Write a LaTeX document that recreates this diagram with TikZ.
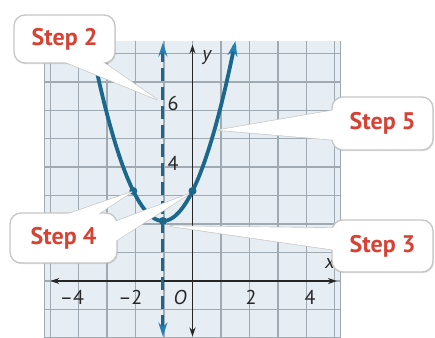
\documentclass[tikz,border=0pt]{standalone}
\usepackage{fontspec}
\setmainfont{PT Sans}
\usetikzlibrary{arrows.meta,shadows}
\definecolor{curvecol}{RGB}{28,104,140}
\definecolor{tipcol}{RGB}{38,128,178}
\definecolor{gridcol}{RGB}{160,170,178}
\definecolor{bgcol}{RGB}{230,237,243}
\definecolor{stepred}{RGB}{214,66,52}
\definecolor{boxline}{RGB}{198,198,198}
\tikzset{
  callbox/.style={fill=white, draw=boxline, line width=1.3pt, rounded corners=11pt,
    font=\bfseries\fontsize{24}{24}\selectfont, text=stepred, inner sep=0pt,
    drop shadow={shadow xshift=0.8pt, shadow yshift=-1.2pt, opacity=0.2, fill=black!60}},
  calltail/.style={fill=white, draw=boxline, line width=1.3pt, line join=round},
  tailcover/.style={fill=white},
  ticklab/.style={font=\fontsize{20}{20}\selectfont, text=black!85, inner sep=0pt},
  axisline/.style={black!85, line width=1.2pt, {Stealth[length=9pt,width=6pt]}-{Stealth[length=9pt,width=6pt]}},
  symline/.style={curvecol, line width=3pt, dash pattern=on 13pt off 6pt,
    {Stealth[length=14pt,width=9pt,color=tipcol]}-{Stealth[length=14pt,width=9pt,color=tipcol]}},
  parab/.style={curvecol, line width=3.8pt,
    {Stealth[length=15pt,width=10pt,color=tipcol]}-{Stealth[length=15pt,width=10pt,color=tipcol]}},
  gpoint/.style={fill=curvecol},
}
\begin{document}
\begin{tikzpicture}[x=1pt,y=-1pt]
\useasboundingbox (0,0) rectangle (435,337);
\clip (0,0) rectangle (435,337);
\begin{scope}[shift={(192.5,281)}, x=29.6pt, y=30pt]
  \fill[bgcol] (-5,-2.3) rectangle (5,8);
  \draw[gridcol, line width=1.4pt] (-5,-2.3) grid (5,8);
  \draw[gridcol, line width=1.4pt] (-5,-2.3) -- (-5,8) (5,-2.3) -- (5,8);
  % axes
  \coordinate (xl) at (-4.8,0);
  \coordinate (xr) at (4.88,0);
  \coordinate (yb) at (0,-1.85);
  \coordinate (yt) at (0,7.88);
  \draw[axisline] (xl) -- (xr);
  \draw[axisline] (yb) -- (yt);
  % axis of symmetry
  \coordinate (db) at (-1,-1.85);
  \coordinate (dt) at (-1,7.95);
  \draw[symline] (db) -- (dt);
  % parabola
  \draw[parab, domain=-3.449:1.449, samples=80, smooth] plot (\x, {(\x+1)*(\x+1)+2});
  % points
  \coordinate (pA) at (-2,3);
  \coordinate (pV) at (-1,2);
  \coordinate (pB) at (0,3);
  \fill[gpoint] (pA) circle (4pt);
  \fill[gpoint] (pV) circle (4pt);
  \fill[gpoint] (pB) circle (4pt);
  % labels
  \node[ticklab] (ly) at (0.5,7.45) {\textit{y}};
  \node[ticklab] (lx) at (4.65,0.6) {\textit{x}};
  \node[ticklab] (lm4) at (-4.07,-0.55) {–4};
  \node[ticklab] (lm2) at (-2.1,-0.55) {–2};
  \node[ticklab] (lO) at (-0.42,-0.55) {\textit{O}};
  \node[ticklab] (l2) at (1.98,-0.55) {2};
  \node[ticklab] (l4) at (3.97,-0.55) {4};
  \node[ticklab] (l6) at (-0.66,5.93) {6};
  \node[ticklab] (l4y) at (-0.66,3.93) {4};
  % tail tips
  \coordinate (tip2) at (-1.2,6.05);
  \coordinate (tip5) at (0.86,5.03);
  \coordinate (tip4a) at (-2.05,2.97);
  \coordinate (tip4b) at (-0.12,2.9);
  \coordinate (tip3) at (-0.76,1.83);
\end{scope}
% tail bases
\coordinate (b2a) at (60,60);   \coordinate (b2b) at (100,60);
\coordinate (b5a) at (335,110); \coordinate (b5b) at (335,140);
\coordinate (b4a) at (62,216);  \coordinate (b4b) at (95,216);
\coordinate (b4c) at (114,222); \coordinate (b4d) at (114,242);
\coordinate (b3a) at (335,228); \coordinate (b3b) at (335,250);
% Step 2
\draw[calltail] (b2a) -- (tip2) -- (b2b) -- cycle;
\node[callbox, minimum width=101pt, minimum height=48pt] (s2) at (64.5,39) {Step 2};
\fill[tailcover] (b2a) -- (tip2) -- (b2b) -- cycle;
% Step 5
\draw[calltail] (b5a) -- (tip5) -- (b5b) -- cycle;
\node[callbox, minimum width=101pt, minimum height=53pt] (s5) at (382.5,123.5) {Step 5};
\fill[tailcover] (b5a) -- (tip5) -- (b5b) -- cycle;
% Step 4
\draw[calltail] (b4a) -- (tip4a) -- (b4b) -- cycle;
\draw[calltail] (b4c) -- (tip4b) -- (b4d) -- cycle;
\node[callbox, minimum width=107pt, minimum height=50pt] (s4) at (63.5,238) {Step 4};
\fill[tailcover] (b4a) -- (tip4a) -- (b4b) -- cycle;
\fill[tailcover] (b4c) -- (tip4b) -- (b4d) -- cycle;
% Step 3
\draw[calltail] (b3a) -- (tip3) -- (b3b) -- cycle;
\node[callbox, minimum width=101pt, minimum height=52pt] (s3) at (382.5,246) {Step 3};
\fill[tailcover] (b3a) -- (tip3) -- (b3b) -- cycle;
\end{tikzpicture}
\end{document}
